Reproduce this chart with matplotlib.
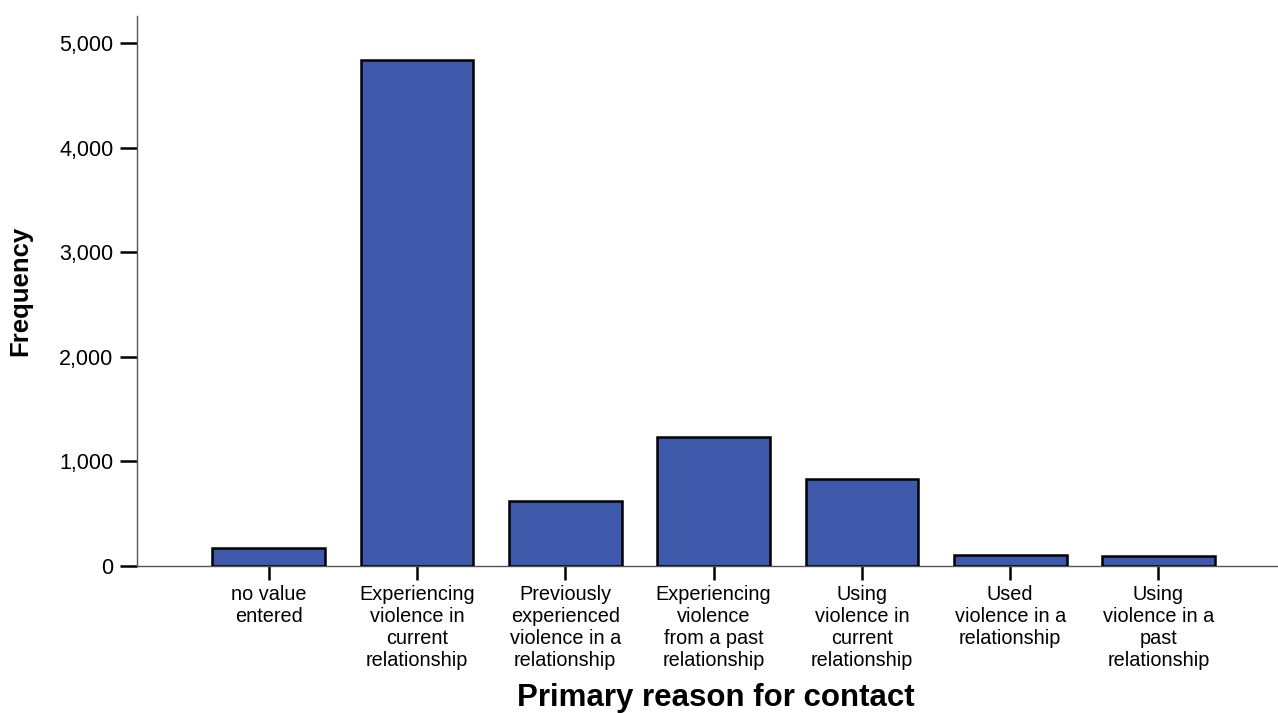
import matplotlib
matplotlib.use("Agg")
from matplotlib import pyplot as plt
from matplotlib.ticker import FuncFormatter

categories = ["no value\nentered",
              "Experiencing\nviolence in\ncurrent\nrelationship",
              "Previously\nexperienced\nviolence in a\nrelationship",
              "Experiencing\nviolence\nfrom a past\nrelationship",
              "Using\nviolence in\ncurrent\nrelationship",
              "Used\nviolence in a\nrelationship",
              "Using\nviolence in a\npast\nrelationship"]
frequency = [175, 4842, 625, 1237, 830, 108, 99]
y_ticks = [0, 1000, 2000, 3000, 4000, 5000]

plt.rcParams['font.family'] = ['Liberation Sans', 'DejaVu Sans']

fig = plt.figure(figsize=(12.78, 7.13), dpi=100)
ax = fig.add_axes([0.1072, 0.2062, 0.8928, 0.7714])

x = range(len(categories))
ax.bar(x, frequency, width=0.76, color='#3f59aa', edgecolor='black', linewidth=1.8, zorder=3)

ax.set_xlim(-0.888, 6.806)
ax.set_ylim(0, 5263)
ax.set_yticks(y_ticks)
ax.yaxis.set_major_formatter(FuncFormatter(lambda v, p: f"{int(v):,}"))
ax.set_xticks(list(x))
ax.set_xticklabels(categories, fontsize=14.3, linespacing=1.2)

ax.tick_params(axis='y', length=12, width=1.8, pad=5, labelsize=15.5)
ax.tick_params(axis='x', length=10, width=1.8, pad=4)

for s in ['top', 'right']:
    ax.spines[s].set_visible(False)
for s in ['left', 'bottom']:
    ax.spines[s].set_color('#555555')
    ax.spines[s].set_linewidth(1.0)

ax.set_xlabel("Primary reason for contact", fontsize=22.5, fontweight='bold')
ax.xaxis.set_label_coords(0.507, -0.212)
ax.set_ylabel("Frequency", fontsize=18.5, fontweight='bold')
ax.yaxis.set_label_coords(-0.092, 0.5)

fig.savefig("out.png", dpi=100)
